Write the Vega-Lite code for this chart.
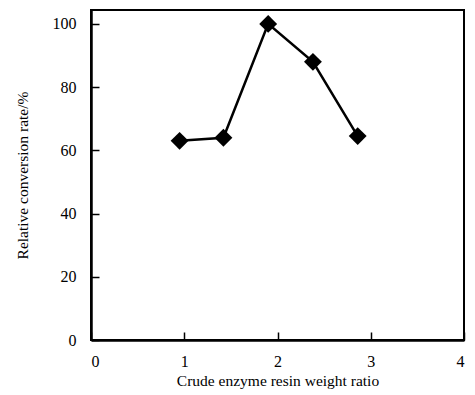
{
  "$schema": "https://vega.github.io/schema/vega-lite/v6.json",
  "autosize": "none",
  "width": 373,
  "height": 330,
  "padding": {"left": 91, "top": 10, "right": 11, "bottom": 55},
  "background": "white",
  "config": {
    "view": {"stroke": "black", "strokeWidth": 2},
    "axis": {
      "grid": false,
      "domainColor": "black",
      "domainWidth": 2.5,
      "ticks": true,
      "tickColor": "black",
      "tickWidth": 1.5,
      "tickSize": -8,
      "labelFont": "Liberation Serif",
      "labelFontSize": 16,
      "labelColor": "black",
      "titleFont": "Liberation Serif",
      "titleFontSize": 15.5,
      "titleFontWeight": "normal",
      "titleColor": "black"
    }
  },
  "data": {
    "values": [
      {"ratio": 0.95, "conversion": 63},
      {"ratio": 1.42, "conversion": 64},
      {"ratio": 1.9, "conversion": 100},
      {"ratio": 2.38, "conversion": 88},
      {"ratio": 2.86, "conversion": 64.5}
    ]
  },
  "layer": [
    {
      "mark": {"type": "line", "color": "black", "strokeWidth": 2.5},
      "encoding": {
        "x": {
          "field": "ratio",
          "type": "quantitative",
          "scale": {"domain": [0, 4], "nice": false},
          "axis": {
            "values": [0, 1, 2, 3, 4],
            "format": "d",
            "labelPadding": 21,
            "title": "Crude enzyme resin weight ratio",
            "titlePadding": 4
          }
        },
        "y": {
          "field": "conversion",
          "type": "quantitative",
          "scale": {"domain": [0, 104.4], "nice": false},
          "axis": {
            "values": [0, 20, 40, 60, 80, 100],
            "labelPadding": 23,
            "title": "Relative conversion rate/%",
            "titlePadding": 22
          }
        }
      }
    },
    {
      "mark": {"type": "point", "shape": "diamond", "filled": true, "color": "black", "opacity": 1, "size": 320},
      "encoding": {
        "x": {"field": "ratio", "type": "quantitative"},
        "y": {"field": "conversion", "type": "quantitative"}
      }
    }
  ]
}
